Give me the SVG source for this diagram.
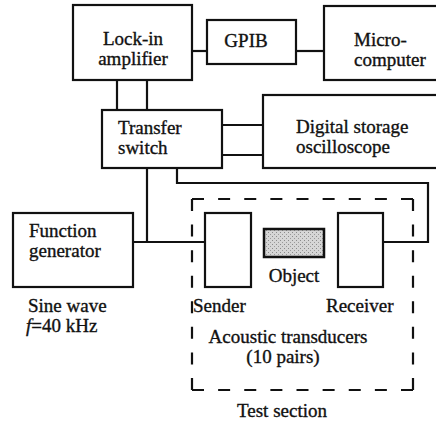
<svg xmlns="http://www.w3.org/2000/svg" width="436" height="424" viewBox="0 0 436 424">
  <style>
    .box { fill: #fff; stroke: #111; stroke-width: 2.2; }
    .wire { fill: none; stroke: #111; stroke-width: 2.2; }
    .dash { fill: none; stroke: #111; stroke-width: 2.2; }
    text { font-family: "Liberation Serif", "Times New Roman", serif; font-size: 19px; fill: #111; stroke: #111; stroke-width: 0.35; }
    .mid { text-anchor: middle; }
  </style>
  <defs>
    <!-- stippled grey fill for the test object -->
    <pattern id="stipple" width="4" height="4" patternUnits="userSpaceOnUse">
      <rect width="4" height="4" fill="#d6d6d6"/>
      <rect x="0" y="0" width="1" height="1" fill="#8a8a8a"/>
      <rect x="2" y="2" width="1" height="1" fill="#9a9a9a"/>
    </pattern>
  </defs>

  <rect width="436" height="424" fill="#fff"/>

  <g id="connectors">
    <!-- lock-in amplifier to GPIB to microcomputer -->
    <line class="wire" x1="192" y1="51" x2="207" y2="51"/>
    <line class="wire" x1="296" y1="51" x2="324" y2="51"/>
    <!-- lock-in amplifier to transfer switch -->
    <line class="wire" x1="117" y1="80" x2="117" y2="110"/>
    <line class="wire" x1="147" y1="80" x2="147" y2="110"/>
    <!-- transfer switch to oscilloscope -->
    <line class="wire" x1="222" y1="125" x2="263" y2="125"/>
    <line class="wire" x1="222" y1="155" x2="263" y2="155"/>
    <!-- transfer switch / function generator / sender -->
    <line class="wire" x1="147" y1="168" x2="147" y2="242"/>
    <line class="wire" x1="133" y1="242" x2="205" y2="242"/>
    <!-- transfer switch to receiver -->
    <polyline class="wire" points="177,168 177,183 428,183 428,242 383,242"/>
  </g>

  <g id="test-section">
    <line class="dash" x1="192" y1="199" x2="413" y2="199" stroke-dasharray="12 14.125"/>
    <line class="dash" x1="192" y1="390" x2="413" y2="390" stroke-dasharray="12 14.125"/>
    <line class="dash" x1="192" y1="199" x2="192" y2="390" stroke-dasharray="12 13.57"/>
    <line class="dash" x1="413" y1="199" x2="413" y2="390" stroke-dasharray="12 13.57"/>
    <text class="mid" x="282" y="417">Test section</text>
  </g>

  <g id="lock-in-amplifier">
    <rect class="box" x="73" y="5" width="119" height="75"/>
    <text class="mid" x="133" y="45">Lock-in</text>
    <text class="mid" x="133" y="65">amplifier</text>
  </g>

  <g id="gpib">
    <rect class="box" x="207" y="20" width="89" height="44"/>
    <text class="mid" x="246" y="47">GPIB</text>
  </g>

  <g id="microcomputer">
    <rect class="box" x="324" y="6" width="120" height="74"/>
    <text x="354" y="46">Micro-</text>
    <text x="354" y="66">computer</text>
  </g>

  <g id="transfer-switch">
    <rect class="box" x="102" y="110" width="120" height="58"/>
    <text x="118" y="134">Transfer</text>
    <text x="118" y="154">switch</text>
  </g>

  <g id="oscilloscope">
    <rect class="box" x="263" y="95" width="180" height="73"/>
    <text x="296" y="133">Digital storage</text>
    <text x="296" y="153">oscilloscope</text>
  </g>

  <g id="function-generator">
    <rect class="box" x="13" y="213" width="120" height="74"/>
    <text x="29" y="237">Function</text>
    <text x="29" y="257">generator</text>
    <text x="28" y="312">Sine wave</text>
    <text x="26" y="332"><tspan font-style="italic">f</tspan>=40 kHz</text>
  </g>

  <g id="sender">
    <rect class="box" x="205" y="213" width="46" height="74"/>
    <text x="193" y="312">Sender</text>
  </g>

  <g id="object">
    <rect x="264" y="229" width="60" height="28" fill="url(#stipple)" stroke="#111" stroke-width="2.5"/>
    <text class="mid" x="294" y="282">Object</text>
  </g>

  <g id="receiver">
    <rect class="box" x="338" y="213" width="45" height="74"/>
    <text x="326" y="312">Receiver</text>
  </g>

  <g id="transducer-label">
    <text class="mid" x="288" y="343">Acoustic transducers</text>
    <text class="mid" x="283" y="363">(10 pairs)</text>
  </g>
</svg>
